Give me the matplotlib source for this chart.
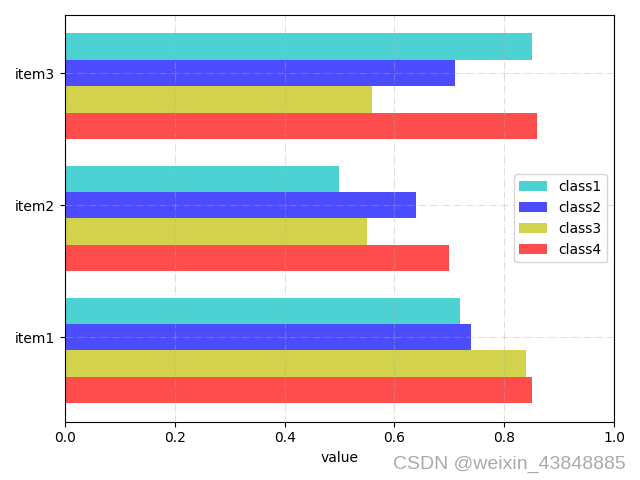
import matplotlib
matplotlib.use("Agg")
import matplotlib.pyplot as plt
import numpy as np

items = ["item1", "item2", "item3"]
classes = ["class1", "class2", "class3", "class4"]
class1 = [0.72, 0.50, 0.85]
class2 = [0.74, 0.64, 0.71]
class3 = [0.84, 0.55, 0.56]
class4 = [0.85, 0.70, 0.86]
colors = ["c", "b", "y", "r"]

fig, ax = plt.subplots(figsize=(6.4, 4.8), dpi=100)
y = np.arange(len(items))
h = 0.2
series = [class1, class2, class3, class4]
offsets = [0.2, 0.0, -0.2, -0.4]
for s, off, col, lab in zip(series, offsets, colors, classes):
    ax.barh(y + off, s, height=h, color=col, alpha=0.7, label=lab)

ax.set_yticks(y)
ax.set_yticklabels(items)
ax.set_xlim(0, 1.0)
ax.set_xlabel("value")
ax.grid(True, linestyle="-.", alpha=0.4)
ax.legend(loc="center right")
fig.tight_layout()
fig.text(0.977, 0.015, "CSDN @weixin_43848885", ha="right", va="bottom",
         fontsize=14, color="#aaaaaa", family="Liberation Sans")
fig.savefig("out.png", dpi=100)
